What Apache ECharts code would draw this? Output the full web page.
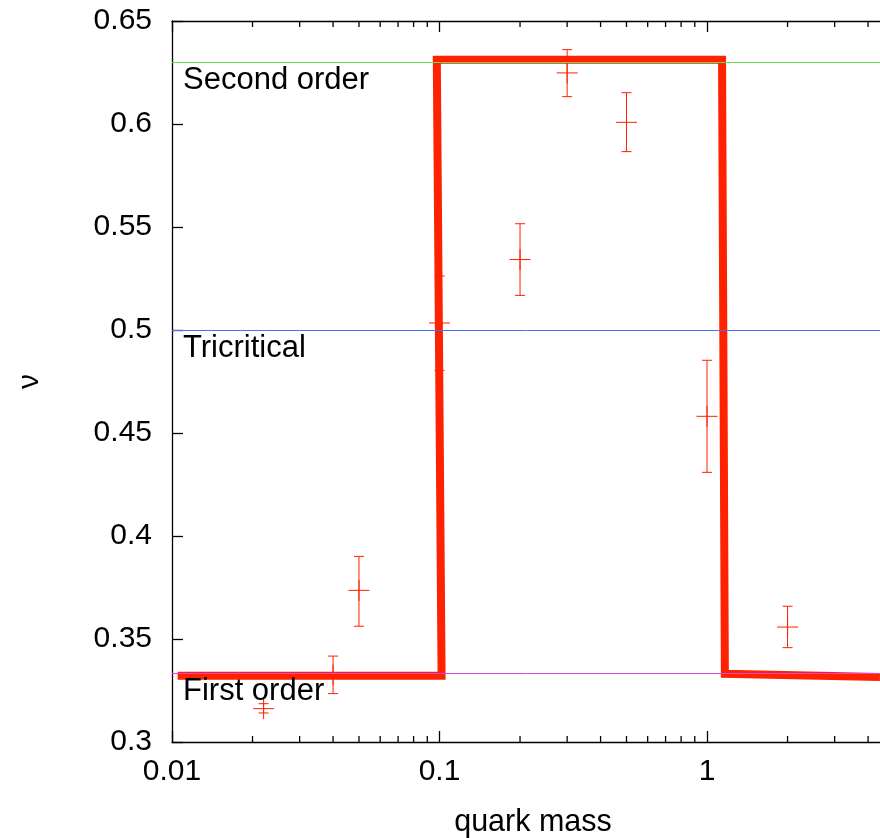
<!DOCTYPE html>
<html>
<head>
<meta charset="utf-8">
<script src="https://cdn.jsdelivr.net/npm/echarts@6/dist/echarts.min.js"></script>
<style>
html,body{margin:0;padding:0;background:#fff;}
#chart{width:880px;height:838px;}
</style>
</head>
<body>
<div id="chart"></div>
<script>
// ---- data ----
const xName = 'quark mass';
const yName = 'ν';
const xMin = 0.01, xMax = 5;
const yMin = 0.3, yMax = 0.65, yStep = 0.05;

// measured points: quark mass, nu, lower error, upper error
const massValues = [0.022, 0.04, 0.05, 0.1, 0.2, 0.3, 0.5, 1, 2];
const nuValues   = [0.3162, 0.3326, 0.3736, 0.5034, 0.5342, 0.6248, 0.6008, 0.4581, 0.3558];
const nuLow      = [0.3141, 0.3235, 0.3562, 0.4804, 0.5168, 0.6133, 0.5866, 0.4309, 0.3458];
const nuHigh     = [0.3186, 0.3417, 0.3901, 0.5262, 0.5516, 0.6361, 0.6152, 0.4853, 0.3659];

// thick step curve
const stepX = [0.0105, 0.1018, 0.0977, 1.138, 1.166, 4.43];
const stepY = [0.3322, 0.3322, 0.6312, 0.6312, 0.3331, 0.3316];

// reference lines
const refNames  = ['Second order', 'Tricritical', 'First order'];
const refValues = [0.63, 0.5, 0.3333];
const refColors = ['#62dc4e', '#4f6ff0', '#d848e0'];

// minor tick positions on log axis
const minorTicks = [0.02,0.03,0.04,0.05,0.06,0.07,0.08,0.09,0.2,0.3,0.4,0.5,0.6,0.7,0.8,0.9,2,3,4];

// ---- chart ----
const FONT = 'Liberation Sans';
const RED = '#ff2200';
const chart = echarts.init(document.getElementById('chart'), null, {renderer:'canvas'});

const errData = massValues.map((m,i)=>[m, nuValues[i], nuLow[i], nuHigh[i]]);
const stepData = stepX.map((x,i)=>[x, stepY[i]]);

const option = {
  animation: false,
  backgroundColor: '#fff',
  textStyle: {fontFamily: FONT},
  grid: {left: 172, top: 21, width: 722, height: 721, containLabel: false, outerBoundsMode: 'none'},
  xAxis: [{
    type: 'log', logBase: 10, min: xMin, max: xMax,
    name: xName, nameLocation: 'middle', nameGap: 65,
    nameTextStyle: {fontSize: 30.5, color: '#000', fontFamily: FONT},
    axisLine: {show: true, lineStyle: {color: '#000', width: 1.3}},
    axisTick: {show: true, inside: true, length: 11, lineStyle: {color: '#000', width: 1.3}},
    axisLabel: {fontSize: 30, color: '#000', margin: 15, fontFamily: FONT, showMaxLabel: false},
    splitLine: {show: false}, minorTick: {show: false}
  },{
    type: 'log', logBase: 10, min: xMin, max: xMax, position: 'top',
    axisLine: {show: true, lineStyle: {color: '#000', width: 1.3}},
    axisTick: {show: true, inside: true, length: 11, lineStyle: {color: '#000', width: 1.3}},
    axisLabel: {show: false}, splitLine: {show: false}
  }],
  yAxis: {
    type: 'value', min: yMin, max: yMax, interval: yStep,
    name: yName, nameLocation: 'middle', nameGap: 127, nameRotate: 90,
    nameTextStyle: {fontSize: 30, color: '#000', fontFamily: FONT},
    axisLine: {show: true, lineStyle: {color: '#000', width: 1.3}},
    axisTick: {show: true, inside: true, length: 11, lineStyle: {color: '#000', width: 1.3}},
    axisLabel: {fontSize: 30, color: '#000', margin: 20, fontFamily: FONT},
    splitLine: {show: false}
  },
  series: [
    {
      type: 'line', data: [], silent: true, z: 1,
      markLine: {
        silent: true, symbol: 'none', animation: false, precision: 5,
        data: refValues.map((v,i)=>({
          yAxis: v, name: refNames[i],
          lineStyle: {color: refColors[i], width: 1, type: 'solid', opacity: 1},
          label: {show: true, position: 'insideStartBottom', formatter: '{b}',
                  fontSize: 31, color: '#000', fontFamily: FONT, distance: [11, 3]}
        }))
      }
    },
    {
      type: 'custom', z: 2, silent: true,
      data: minorTicks.map(v=>[v]),
      renderItem: function(params, api){
        const v = api.value(0);
        const b = api.coord([v, yMin]);
        const t = api.coord([v, yMax]);
        const st = {stroke: '#000', lineWidth: 1.3};
        return {type: 'group', children: [
          {type: 'line', shape: {x1: b[0], y1: b[1], x2: b[0], y2: b[1]-6}, style: st},
          {type: 'line', shape: {x1: t[0], y1: t[1], x2: t[0], y2: t[1]+6}, style: st}
        ]};
      }
    },
    {
      type: 'custom', z: 3, silent: true,
      data: errData,
      renderItem: function(params, api){
        const x = api.value(0);
        const p = api.coord([x, api.value(1)]);
        const lo = api.coord([x, api.value(2)]);
        const hi = api.coord([x, api.value(3)]);
        const st = {stroke: RED, lineWidth: 1};
        const c = 5, s = 10.5;
        return {type: 'group', children: [
          {type: 'line', shape: {x1: lo[0], y1: lo[1], x2: hi[0], y2: hi[1]}, style: st},
          {type: 'line', shape: {x1: lo[0]-c, y1: lo[1], x2: lo[0]+c, y2: lo[1]}, style: st},
          {type: 'line', shape: {x1: hi[0]-c, y1: hi[1], x2: hi[0]+c, y2: hi[1]}, style: st},
          {type: 'line', shape: {x1: p[0]-s, y1: p[1], x2: p[0]+s, y2: p[1]}, style: st},
          {type: 'line', shape: {x1: p[0], y1: p[1]-s, x2: p[0], y2: p[1]+s}, style: st}
        ]};
      }
    },
    {
      type: 'line', z: 4, silent: true, data: stepData,
      showSymbol: false, symbol: 'none',
      lineStyle: {color: RED, width: 8, cap: 'butt', join: 'miter'}
    }
  ]
};
chart.setOption(option);
</script>
</body>
</html>
